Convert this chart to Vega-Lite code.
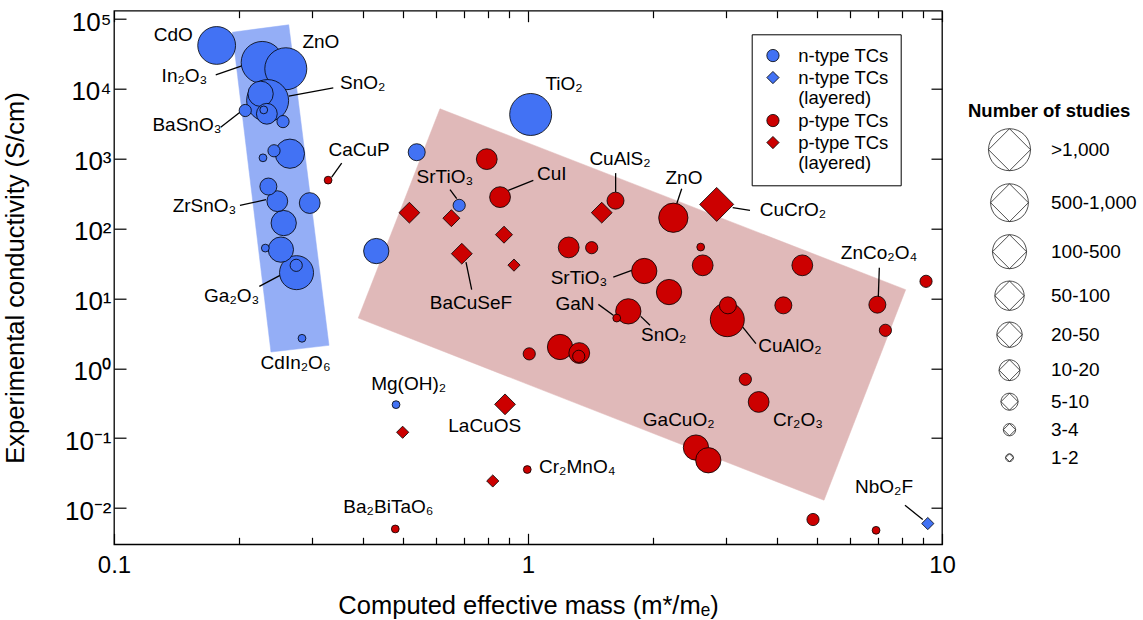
{
  "$schema": "https://vega.github.io/schema/vega-lite/v6.json",
  "width": 828,
  "height": 533.6,
  "autosize": {"type": "none"},
  "padding": {"left": 114, "top": 10.7, "right": 201, "bottom": 75.7},
  "config": {
    "font": "Liberation Sans",
    "view": {"stroke": "black", "strokeWidth": 1.3},
    "axis": {"grid": false, "domain": false, "tickColor": "black", "tickWidth": 1.2, "labelColor": "black", "titleColor": "black", "titleFontWeight": "normal"},
    "legend": {"labelColor": "black", "titleColor": "black"}
  },
  "datasets": {
    "regions": [
      {"region": "n", "v": 0, "x": 0.1931, "y": 64700},
      {"region": "n", "v": 1, "x": 0.2643, "y": 82600},
      {"region": "n", "v": 2, "x": 0.3306, "y": 2.133},
      {"region": "n", "v": 3, "x": 0.2394, "y": 1.711},
      {"region": "p", "v": 0, "x": 0.6129, "y": 5190},
      {"region": "p", "v": 1, "x": 8.17, "y": 13.36},
      {"region": "p", "v": 2, "x": 5.188, "y": 0.01294},
      {"region": "p", "v": 3, "x": 0.389, "y": 5.244}
    ],
    "points": [
      {"name": "In2O3", "kind": "n-type TCs", "studies": ">1,000", "x": 0.228, "y": 23900},
      {"name": "ZnO", "kind": "n-type TCs", "studies": ">1,000", "x": 0.260, "y": 19400},
      {"name": "SnO2", "kind": "n-type TCs", "studies": ">1,000", "x": 0.235, "y": 6800},
      {"name": "TiO2", "kind": "n-type TCs", "studies": ">1,000", "x": 1.015, "y": 4300},
      {"name": "CdO", "kind": "n-type TCs", "studies": "500-1,000", "x": 0.177, "y": 41800},
      {"name": "Ga2O3", "kind": "n-type TCs", "studies": "100-500", "x": 0.276, "y": 23.4},
      {"name": "CuAlO2", "kind": "p-type TCs", "studies": "100-500", "x": 3.03, "y": 4.97},
      {"name": "CuCrO2", "kind": "p-type TCs (layered)", "studies": "100-500", "x": 2.856, "y": 222},
      {"name": "", "kind": "n-type TCs", "studies": "50-100", "x": 0.266, "y": 1180},
      {"name": "ZnO", "kind": "p-type TCs", "studies": "50-100", "x": 2.244, "y": 143},
      {"name": "", "kind": "n-type TCs", "studies": "20-50", "x": 0.226, "y": 8500},
      {"name": "", "kind": "n-type TCs", "studies": "20-50", "x": 0.257, "y": 120},
      {"name": "", "kind": "n-type TCs", "studies": "20-50", "x": 0.253, "y": 50},
      {"name": "", "kind": "n-type TCs", "studies": "20-50", "x": 0.43, "y": 47.7},
      {"name": "SrTiO3", "kind": "p-type TCs", "studies": "20-50", "x": 1.909, "y": 24.7},
      {"name": "SnO2", "kind": "p-type TCs", "studies": "20-50", "x": 1.747, "y": 6.54},
      {"name": "", "kind": "p-type TCs", "studies": "20-50", "x": 1.195, "y": 2.02},
      {"name": "", "kind": "p-type TCs", "studies": "20-50", "x": 2.191, "y": 12.35},
      {"name": "GaCuO2", "kind": "p-type TCs", "studies": "20-50", "x": 2.545, "y": 0.0734},
      {"name": "GaCuO2", "kind": "p-type TCs", "studies": "20-50", "x": 2.726, "y": 0.0483},
      {"name": "", "kind": "n-type TCs", "studies": "10-20", "x": 0.234, "y": 4400},
      {"name": "ZrSnO3", "kind": "n-type TCs", "studies": "10-20", "x": 0.248, "y": 247},
      {"name": "", "kind": "n-type TCs", "studies": "10-20", "x": 0.297, "y": 232},
      {"name": "", "kind": "p-type TCs", "studies": "10-20", "x": 0.795, "y": 987},
      {"name": "CuI", "kind": "p-type TCs", "studies": "10-20", "x": 0.856, "y": 282},
      {"name": "", "kind": "p-type TCs (layered)", "studies": "10-20", "x": 0.517, "y": 169},
      {"name": "", "kind": "p-type TCs (layered)", "studies": "10-20", "x": 1.507, "y": 169},
      {"name": "BaCuSeF", "kind": "p-type TCs (layered)", "studies": "10-20", "x": 0.692, "y": 43.7},
      {"name": "", "kind": "p-type TCs", "studies": "10-20", "x": 1.254, "y": 53.8},
      {"name": "", "kind": "p-type TCs", "studies": "10-20", "x": 1.33, "y": 1.655},
      {"name": "", "kind": "p-type TCs", "studies": "10-20", "x": 2.642, "y": 29.8},
      {"name": "", "kind": "p-type TCs", "studies": "10-20", "x": 4.598, "y": 29.8},
      {"name": "Cr2O3", "kind": "p-type TCs", "studies": "10-20", "x": 3.607, "y": 0.33},
      {"name": "LaCuOS", "kind": "p-type TCs (layered)", "studies": "10-20", "x": 0.88, "y": 0.305},
      {"name": "", "kind": "n-type TCs", "studies": "5-10", "x": 0.236, "y": 400},
      {"name": "", "kind": "n-type TCs", "studies": "5-10", "x": 0.5385, "y": 1240},
      {"name": "CuAlS2", "kind": "p-type TCs", "studies": "5-10", "x": 1.627, "y": 251},
      {"name": "", "kind": "p-type TCs (layered)", "studies": "5-10", "x": 0.653, "y": 141},
      {"name": "", "kind": "p-type TCs (layered)", "studies": "5-10", "x": 0.875, "y": 81.8},
      {"name": "", "kind": "p-type TCs", "studies": "5-10", "x": 4.138, "y": 7.97},
      {"name": "", "kind": "p-type TCs", "studies": "5-10", "x": 3.04, "y": 7.97},
      {"name": "ZnCo2O4", "kind": "p-type TCs", "studies": "5-10", "x": 6.98, "y": 8.15},
      {"name": "BaSnO3", "kind": "n-type TCs", "studies": "3-4", "x": 0.2075, "y": 4900},
      {"name": "", "kind": "n-type TCs", "studies": "3-4", "x": 0.256, "y": 3400},
      {"name": "", "kind": "n-type TCs", "studies": "3-4", "x": 0.2435, "y": 1300},
      {"name": "", "kind": "n-type TCs", "studies": "3-4", "x": 0.2755, "y": 29.8},
      {"name": "SrTiO3", "kind": "n-type TCs", "studies": "3-4", "x": 0.682, "y": 215},
      {"name": "NbO2F", "kind": "n-type TCs (layered)", "studies": "3-4", "x": 9.24, "y": 0.006},
      {"name": "", "kind": "p-type TCs (layered)", "studies": "3-4", "x": 0.925, "y": 30},
      {"name": "", "kind": "p-type TCs", "studies": "3-4", "x": 1.425, "y": 53.3},
      {"name": "", "kind": "p-type TCs", "studies": "3-4", "x": 1.007, "y": 1.61},
      {"name": "", "kind": "p-type TCs", "studies": "3-4", "x": 1.326, "y": 1.485},
      {"name": "", "kind": "p-type TCs", "studies": "3-4", "x": 7.3, "y": 3.5},
      {"name": "", "kind": "p-type TCs", "studies": "3-4", "x": 3.35, "y": 0.696},
      {"name": "", "kind": "p-type TCs", "studies": "3-4", "x": 9.15, "y": 17.6},
      {"name": "", "kind": "p-type TCs", "studies": "3-4", "x": 4.88, "y": 0.00685},
      {"name": "", "kind": "p-type TCs (layered)", "studies": "3-4", "x": 0.498, "y": 0.1215},
      {"name": "", "kind": "p-type TCs (layered)", "studies": "3-4", "x": 0.822, "y": 0.0244},
      {"name": "", "kind": "n-type TCs", "studies": "1-2", "x": 0.230, "y": 5000},
      {"name": "", "kind": "n-type TCs", "studies": "1-2", "x": 0.229, "y": 1030},
      {"name": "", "kind": "n-type TCs", "studies": "1-2", "x": 0.232, "y": 52.6},
      {"name": "CdIn2O6", "kind": "n-type TCs", "studies": "1-2", "x": 0.2845, "y": 2.69},
      {"name": "Mg(OH)2", "kind": "n-type TCs", "studies": "1-2", "x": 0.48, "y": 0.302},
      {"name": "CaCuP", "kind": "p-type TCs", "studies": "1-2", "x": 0.329, "y": 494},
      {"name": "GaN", "kind": "p-type TCs", "studies": "1-2", "x": 1.638, "y": 5.24},
      {"name": "", "kind": "p-type TCs", "studies": "1-2", "x": 2.613, "y": 54.4},
      {"name": "", "kind": "p-type TCs", "studies": "1-2", "x": 6.93, "y": 0.0048},
      {"name": "Cr2MnO4", "kind": "p-type TCs", "studies": "1-2", "x": 0.996, "y": 0.0356},
      {"name": "Ba2BiTaO6", "kind": "p-type TCs", "studies": "1-2", "x": 0.478, "y": 0.00502}
    ],
    "labels": [
      {"text": "CdO", "x": 0.139, "y": 59000},
      {"text": "ZnO", "x": 0.316, "y": 46900},
      {"text": "In₂O₃", "x": 0.148, "y": 15500},
      {"text": "SnO₂", "x": 0.399, "y": 11950},
      {"text": "BaSnO₃", "x": 0.150, "y": 3000},
      {"text": "CaCuP", "x": 0.391, "y": 1314},
      {"text": "ZrSnO₃", "x": 0.1654, "y": 208},
      {"text": "Ga₂O₃", "x": 0.1924, "y": 10.9},
      {"text": "CdIn₂O₆", "x": 0.2745, "y": 1.18},
      {"text": "TiO₂", "x": 1.222, "y": 11560},
      {"text": "SrTiO₃", "x": 0.630, "y": 540},
      {"text": "CuI", "x": 1.141, "y": 596},
      {"text": "CuAlS₂", "x": 1.668, "y": 993},
      {"text": "ZnO", "x": 2.381, "y": 531},
      {"text": "CuCrO₂", "x": 4.366, "y": 182},
      {"text": "BaCuSeF", "x": 0.728, "y": 8.51},
      {"text": "SrTiO₃", "x": 1.328, "y": 19.4},
      {"text": "GaN", "x": 1.299, "y": 8.23},
      {"text": "SnO₂", "x": 2.127, "y": 2.97},
      {"text": "CuAlO₂", "x": 4.294, "y": 2.06},
      {"text": "ZnCo₂O₄", "x": 7.044, "y": 44.2},
      {"text": "Cr₂O₃", "x": 4.489, "y": 0.180},
      {"text": "GaCuO₂", "x": 2.312, "y": 0.180},
      {"text": "NbO₂F", "x": 7.243, "y": 0.0198},
      {"text": "Mg(OH)₂", "x": 0.515, "y": 0.59},
      {"text": "LaCuOS", "x": 0.786, "y": 0.1504},
      {"text": "Cr₂MnO₄", "x": 1.315, "y": 0.0384},
      {"text": "Ba₂BiTaO₆", "x": 0.460, "y": 0.0103}
    ],
    "leaders": [
      {"x": 0.1761, "y": 15910, "x2": 0.2052, "y2": 21610},
      {"x": 0.3386, "y": 10370, "x2": 0.2643, "y2": 7863},
      {"x": 0.1810, "y": 2832, "x2": 0.2015, "y2": 4643},
      {"x": 0.3548, "y": 865, "x2": 0.3356, "y2": 545.5},
      {"x": 0.2015, "y": 214.7, "x2": 0.2329, "y2": 259.1},
      {"x": 0.2244, "y": 14.9, "x2": 0.2518, "y2": 21.4},
      {"x": 0.6481, "y": 360.1, "x2": 0.6727, "y2": 267.8},
      {"x": 1.030, "y": 489.3, "x2": 0.8962, "y2": 352},
      {"x": 1.628, "y": 622.3, "x2": 1.628, "y2": 332.9},
      {"x": 2.351, "y": 372.2, "x2": 2.287, "y2": 227.1},
      {"x": 3.437, "y": 182.1, "x2": 3.122, "y2": 199.1},
      {"x": 0.7311, "y": 13.36, "x2": 0.7083, "y2": 33.17},
      {"x": 1.607, "y": 20.24, "x2": 1.781, "y2": 25.23},
      {"x": 1.479, "y": 8.232, "x2": 1.607, "y2": 5.731},
      {"x": 1.971, "y": 4.123, "x2": 1.872, "y2": 5.546},
      {"x": 3.553, "y": 2.256, "x2": 3.302, "y2": 3.898},
      {"x": 7.057, "y": 27.58, "x2": 7.017, "y2": 10.47},
      {"x": 8.139, "y": 0.01097, "x2": 8.983, "y2": 0.006847}
    ]
  },
  "layer": [
    {
      "data": {"name": "regions"},
      "transform": [{"filter": "datum.region == 'n'"}],
      "mark": {"type": "line", "interpolate": "linear-closed", "fill": "#94AEF6", "stroke": "#94AEF6", "strokeWidth": 0.5},
      "encoding": {
        "x": {"field": "x", "type": "quantitative", "scale": {"type": "log", "domain": [0.1, 10], "nice": false},
              "axis": {"orient": "top", "values": [0.1,0.2,0.3,0.4,0.5,0.6,0.7,0.8,0.9,1,2,3,4,5,6,7,8,9,10], "labels": false, "title": null,
                       "tickSize": {"condition": {"test": "datum.value == 0.1 || datum.value == 1 || datum.value == 10", "value": -11}, "value": -7}}},
        "y": {"field": "y", "type": "quantitative", "scale": {"type": "log", "domain": [0.003027, 131500], "nice": false},
              "axis": {"orient": "right", "values": [0.01,0.1,1,10,100,1000,10000,100000], "labels": false, "title": null, "tickSize": -11}},
        "order": {"field": "v", "type": "quantitative"}
      }
    },
    {
      "data": {"name": "regions"},
      "transform": [{"filter": "datum.region == 'p'"}],
      "mark": {"type": "line", "interpolate": "linear-closed", "fill": "#E0B9B9", "stroke": "#E0B9B9", "strokeWidth": 0.5},
      "encoding": {
        "x": {"field": "x", "type": "quantitative", "scale": {"type": "log", "domain": [0.1, 10], "nice": false}, "axis": null},
        "y": {"field": "y", "type": "quantitative", "scale": {"type": "log", "domain": [0.003027, 131500], "nice": false}, "axis": null},
        "order": {"field": "v", "type": "quantitative"}
      }
    },
    {
      "data": {"name": "leaders"},
      "mark": {"type": "rule", "color": "black", "strokeWidth": 1.3},
      "encoding": {
        "x": {"field": "x", "type": "quantitative", "scale": {"type": "log", "domain": [0.1, 10], "nice": false}, "axis": null},
        "y": {"field": "y", "type": "quantitative", "scale": {"type": "log", "domain": [0.003027, 131500], "nice": false}, "axis": null},
        "x2": {"field": "x2"},
        "y2": {"field": "y2"}
      }
    },
    {
      "data": {"name": "points"},
      "mark": {"type": "point", "filled": true, "opacity": 1, "stroke": "black", "strokeWidth": 0.8},
      "encoding": {
        "x": {"field": "x", "type": "quantitative", "scale": {"type": "log", "domain": [0.1, 10], "nice": false},
              "axis": {"orient": "bottom", "values": [0.1,0.2,0.3,0.4,0.5,0.6,0.7,0.8,0.9,1,2,3,4,5,6,7,8,9,10],
                       "labelExpr": "datum.value < 0.15 ? '0.1' : (abs(datum.value - 1) < 0.01 ? '1' : (datum.value > 9.5 ? '10' : ''))",
                       "labelFontSize": 24, "labelPadding": 20, "labelFlush": false, "labelOverlap": false,
                       "tickSize": {"condition": {"test": "datum.value == 0.1 || datum.value == 1 || datum.value == 10", "value": -11}, "value": -7},
                       "title": "Computed effective mass (m*/mₑ)", "titleFontSize": 25.5, "titlePadding": 12}},
        "y": {"field": "y", "type": "quantitative", "scale": {"type": "log", "domain": [0.003027, 131500], "nice": false},
              "axis": {"orient": "left", "values": [0.01,0.1,1,10,100,1000,10000,100000],
                       "labelExpr": "'10' + ['⁻²','⁻¹','⁰','¹','²','³','⁴','⁵'][round(log(datum.value)/LN10) + 2]",
                       "labelFontSize": 26, "labelPadding": 15, "labelOffset": 3, "labelFlush": false, "labelOverlap": false, "tickSize": -12,
                       "title": "Experimental conductivity (S/cm)", "titleFontSize": 25.5, "titlePadding": 36}},
        "color": {"field": "kind", "type": "nominal",
                  "scale": {"domain": ["n-type TCs", "n-type TCs (layered)", "p-type TCs", "p-type TCs (layered)"], "range": ["#4272F4", "#4272F4", "#CC0000", "#CC0000"]},
                  "legend": {"orient": "none", "legendX": 637.7, "legendY": 23.6, "title": null, "strokeColor": "black", "fillColor": "white",
                             "padding": 12, "labelFontSize": 18.5, "symbolSize": 150, "symbolStrokeColor": "black", "symbolStrokeWidth": 0.8,
                             "labelOffset": 16, "rowPadding": 3,
                             "labelExpr": "indexof(datum.label, '(layered)') > 0 ? [replace(datum.label, ' (layered)', ''), '(layered)'] : datum.label"}},
        "shape": {"field": "kind", "type": "nominal",
                  "scale": {"domain": ["n-type TCs", "n-type TCs (layered)", "p-type TCs", "p-type TCs (layered)"], "range": ["circle", "diamond", "circle", "diamond"]}},
        "size": {"field": "studies", "type": "ordinal",
                 "scale": {"type": "ordinal", "domain": [">1,000", "500-1,000", "100-500", "50-100", "20-50", "10-20", "5-10", "3-4", "1-2"], "range": [1764, 1429, 1156, 858, 640, 433, 289, 149, 61]},
                 "legend": {"orient": "none", "legendX": 854, "legendY": 91, "title": "Number of studies", "titleFontSize": 18.5, "titleFontWeight": "bold",
                            "titlePadding": 8, "labelFontSize": 19, "labelOffset": 20, "symbolOffset": 20, "rowPadding": 8,
                            "symbolType": "M-1,0A1,1,0,1,0,1,0A1,1,0,1,0,-1,0ZM-1,0L0,-1L1,0L0,1Z",
                            "symbolFillColor": "white", "symbolStrokeColor": "#222222", "symbolStrokeWidth": 0.8}}
      }
    },
    {
      "data": {"name": "labels"},
      "mark": {"type": "text", "fontSize": 19, "align": "center", "baseline": "middle", "color": "black"},
      "encoding": {
        "x": {"field": "x", "type": "quantitative", "scale": {"type": "log", "domain": [0.1, 10], "nice": false}, "axis": null},
        "y": {"field": "y", "type": "quantitative", "scale": {"type": "log", "domain": [0.003027, 131500], "nice": false}, "axis": null},
        "text": {"field": "text", "type": "nominal"}
      }
    }
  ],
  "resolve": {"axis": {"x": "independent", "y": "independent"}}
}
